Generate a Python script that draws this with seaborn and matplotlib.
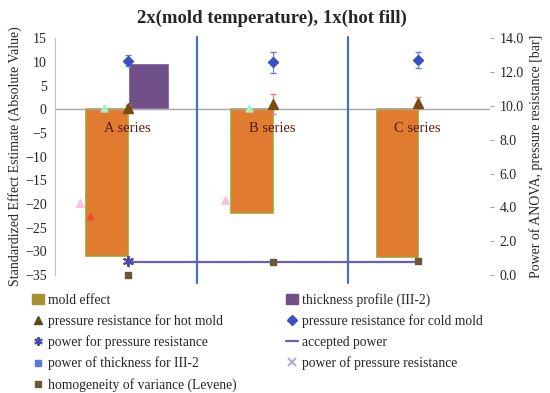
import numpy as np
import pandas as pd
import matplotlib
matplotlib.use("Agg")
import matplotlib.pyplot as plt
import seaborn as sns
from matplotlib.lines import Line2D
from matplotlib.patches import Patch

# --- data ---
series = ["A series", "B series", "C series"]
mold_effect = [-31.0, -21.8, -31.1]          # left axis
thickness_profile = [9.7, np.nan, np.nan]    # left axis
p_hot = [9.9, 10.1, 10.15]                   # right axis [bar]
p_hot_err = [0.15, 0.6, 0.35]
p_cold = [12.66, 12.56, 12.7]
p_cold_err = [0.33, 0.6, 0.47]
power_pressure = [0.85, np.nan, np.nan]
levene = [0.0, 0.8, 0.85]
accepted_power = [0.8, 0.8, 0.8]
# faint leftover marks (left axis)
pink_marks = [-19.8, -19.2, np.nan]
green_marks = [0.3, 0.3, np.nan]
red_marks = [-22.6, np.nan, np.nan]
separators = [0.48, 1.52]

sns.set_style("white")
plt.rcParams["font.family"] = ["Liberation Serif", "DejaVu Serif"]

fig = plt.figure(figsize=(5.5, 3.93), dpi=100)
ax = fig.add_axes([0.1, 0.30, 0.791, 0.603])

df = pd.DataFrame({
    "series": series * 2,
    "value": mold_effect + thickness_profile,
    "kind": ["mold effect"] * 3 + ["thickness profile (III-2)"] * 3,
})
sns.barplot(data=df, x="series", y="value", hue="kind", ax=ax, width=0.566,
            palette=["#E07B30", "#71508A"], legend=False, saturation=1)
for p in ax.patches[:3]:
    p.set_edgecolor("#A8A030")
    p.set_linewidth(1.2)

x = np.arange(len(series))
ax.scatter(x - 0.33, pink_marks, marker="^", s=30, color="#F7C3E8", zorder=3)
ax.scatter(x - 0.16, green_marks, marker="^", s=25, color="#A8F0C8", zorder=3)
ax.errorbar(x - 0.26, red_marks, yerr=[0.8, 0, 0], fmt="^", ms=5, color="#F04A30",
            ecolor="#9ACB50", zorder=3)

ax.set_xlim(-0.5, 2.5)
ax.set_ylim(-35, 15)
ax.set_yticks(range(-35, 16, 5))
ax.set_xticks([])
ax.set_xlabel("")
ax.set_ylabel("Standardized Effect Estimate (Absolute Value)", fontsize=10, labelpad=2)
ax.tick_params(axis="y", labelsize=10, length=0, pad=6)
ax.axhline(0, color="#A6A6A6", lw=1, zorder=1)
for s in ["top", "right", "bottom"]:
    ax.spines[s].set_visible(False)
ax.spines["left"].set_color("#BFBFBF")
ax.spines["left"].set_linewidth(0.8)

for xs in separators:
    ax.plot([xs, xs], [15.2, -36.6], color="#4472C4", lw=1.6, clip_on=False, zorder=4)

for i, name in enumerate(series):
    ax.text(i, -4, name, ha="center", va="center", fontsize=10.5, color="#5A1A12", zorder=5)

ax2 = ax.twinx()
ax2.set_ylim(0, 14)
ax2.set_yticks(np.arange(0, 14.1, 2))
ax2.set_yticklabels([f"{v:.1f}" for v in np.arange(0, 14.1, 2)])
ax2.tick_params(axis="y", labelsize=10, length=3, color="#A6A6A6", pad=4)
for s in ["top", "right", "bottom", "left"]:
    ax2.spines[s].set_visible(False)
ax2.set_ylabel("Power of ANOVA, pressure resistance [bar]", fontsize=10, labelpad=4)

ax2.errorbar(x, p_cold, yerr=p_cold_err, fmt="D", ms=5, color="#3A50C8",
             ecolor="#6A7AD8", elinewidth=0.8, capsize=2, zorder=5)
ax2.errorbar(x, p_hot, yerr=p_hot_err, fmt="^", ms=6.5, color="#7B4A12",
             ecolor="#E08080", elinewidth=0.8, capsize=2, zorder=5)
ax2.plot(x, accepted_power, color="#6A5EB8", lw=1.6, zorder=4)
ax2.scatter(x, power_pressure, marker=(6, 2, 0), s=45, color="#4A4AA8", linewidths=1.5, zorder=6)
ax2.scatter(x, levene, marker="s", s=22, color="#6B5A3A", zorder=6, clip_on=False)

fig.suptitle("2x(mold temperature), 1x(hot fill)", fontsize=13.5, fontweight="bold",
             x=0.495, y=0.975)

handles = [
    Patch(color="#A89030", label="mold effect"),
    Line2D([], [], ls="", marker="^", color="#5C4A12", ms=6, label="pressure resistance for hot mold"),
    Line2D([], [], ls="", marker=(6, 2, 0), color="#4A4AA8", ms=6, mew=1.5, label="power for pressure resistance"),
    Line2D([], [], ls="", marker="s", color="#5B7BD0", ms=4, label="power of thickness for III-2"),
    Line2D([], [], ls="", marker="s", color="#6B5A3A", ms=4, label="homogeneity of variance (Levene)"),
    Patch(color="#71508A", label="thickness profile (III-2)"),
    Line2D([], [], ls="", marker="D", color="#3A50C8", ms=5, label="pressure resistance for cold mold"),
    Line2D([], [], color="#6A5EB8", lw=1.6, label="accepted power"),
    Line2D([], [], ls="", marker="x", color="#A8B0DC", ms=6, mew=1.5, label="power of pressure resistance"),
]
fig.legend(handles=handles, ncol=2, loc="upper left", bbox_to_anchor=(0.045, 0.272),
           frameon=False, fontsize=9.8, handlelength=0.9, handletextpad=0.3,
           labelspacing=0.55, columnspacing=3.6, borderpad=0)

fig.savefig("out.png", dpi=100)
